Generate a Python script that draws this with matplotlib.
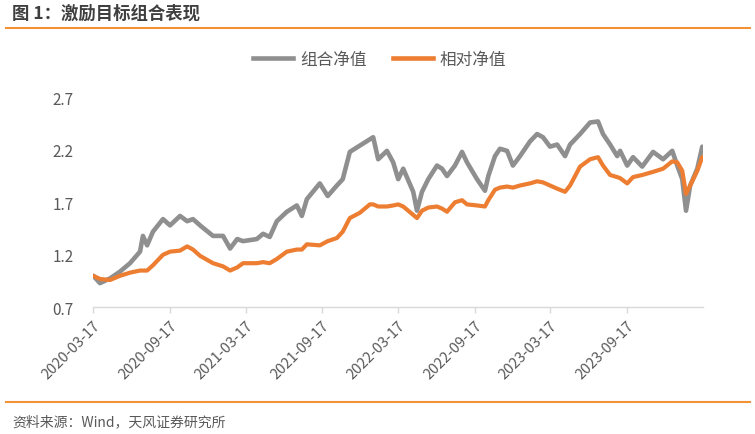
import matplotlib
matplotlib.use("Agg")
import matplotlib.pyplot as plt
import pandas as pd
from matplotlib.lines import Line2D

plt.rcParams['font.family'] = ['Noto Sans CJK SC', 'DejaVu Sans']

dates = ["2020-03-17", "2020-04-02", "2020-04-26", "2020-05-20", "2020-06-13", "2020-07-07",
         "2020-07-14", "2020-07-24", "2020-08-07", "2020-08-31", "2020-09-17", "2020-10-11",
         "2020-10-28", "2020-11-11", "2020-11-28", "2020-12-29", "2021-01-22", "2021-02-08",
         "2021-02-25", "2021-03-11", "2021-04-13", "2021-04-28", "2021-05-14", "2021-05-31",
         "2021-06-24", "2021-07-18", "2021-07-30", "2021-08-11", "2021-09-11", "2021-09-30",
         "2021-10-22", "2021-11-05", "2021-11-22", "2021-12-16", "2022-01-09", "2022-01-17",
         "2022-01-29", "2022-02-19", "2022-03-06", "2022-03-18", "2022-03-30", "2022-04-23",
         "2022-05-02", "2022-05-14", "2022-05-29", "2022-06-19", "2022-07-01", "2022-07-13",
         "2022-08-01", "2022-08-18", "2022-08-30", "2022-09-23", "2022-10-12", "2022-10-20",
         "2022-11-05", "2022-11-17", "2022-12-04", "2022-12-18", "2023-01-04", "2023-01-28",
         "2023-02-14", "2023-02-28", "2023-03-17", "2023-04-03", "2023-04-22", "2023-05-04",
         "2023-05-28", "2023-06-21", "2023-07-10", "2023-07-22", "2023-08-08", "2023-08-25",
         "2023-09-01", "2023-09-18", "2023-10-02", "2023-10-24", "2023-11-19", "2023-12-13",
         "2024-01-04", "2024-01-16", "2024-01-28", "2024-02-06", "2024-02-16", "2024-03-04",
         "2024-03-16"]

portfolio_nav = [1.00, 0.93, 0.975, 1.04, 1.12, 1.23, 1.38, 1.29, 1.42, 1.54, 1.48, 1.57,
                 1.52, 1.54, 1.48, 1.38, 1.38, 1.26, 1.35, 1.33, 1.35, 1.40, 1.37, 1.52,
                 1.61, 1.67, 1.57, 1.73, 1.88, 1.76, 1.86, 1.92, 2.18, 2.24, 2.30, 2.32,
                 2.11, 2.19, 2.08, 1.92, 2.02, 1.80, 1.62, 1.80, 1.92, 2.05, 2.02, 1.95,
                 2.05, 2.18, 2.08, 1.92, 1.81, 1.95, 2.14, 2.21, 2.19, 2.05, 2.14, 2.28,
                 2.35, 2.32, 2.23, 2.25, 2.14, 2.25, 2.35, 2.46, 2.47, 2.35, 2.25, 2.14,
                 2.19, 2.05, 2.13, 2.04, 2.18, 2.11, 2.19, 2.05, 1.92, 1.62, 1.86, 2.02,
                 2.23]

relative_nav = [1.00, 0.97, 0.96, 1.00, 1.03, 1.05, 1.05, 1.05, 1.10, 1.20, 1.23, 1.24,
                1.28, 1.25, 1.19, 1.12, 1.09, 1.05, 1.08, 1.12, 1.12, 1.13, 1.12, 1.16,
                1.23, 1.25, 1.25, 1.30, 1.29, 1.33, 1.36, 1.42, 1.55, 1.60, 1.68, 1.68,
                1.66, 1.66, 1.67, 1.68, 1.66, 1.58, 1.55, 1.62, 1.65, 1.66, 1.64, 1.61,
                1.70, 1.72, 1.68, 1.67, 1.66, 1.72, 1.82, 1.84, 1.85, 1.84, 1.86, 1.88,
                1.90, 1.89, 1.86, 1.83, 1.80, 1.86, 2.04, 2.11, 2.13, 2.05, 1.96, 1.94,
                1.93, 1.88, 1.94, 1.96, 1.99, 2.02, 2.09, 2.08, 2.00, 1.78, 1.86, 2.00,
                2.13]

series_names = ["组合净值", "相对净值"]
tick_dates = ["2020-03-17", "2020-09-17", "2021-03-17", "2021-09-17",
              "2022-03-17", "2022-09-17", "2023-03-17", "2023-09-17"]
y_ticks = [0.7, 1.2, 1.7, 2.2, 2.7]

GRAY = "#8f8f8f"
ORANGE = "#ed7d31"
RULE = "#f39234"
TXT = "#595959"

x = pd.to_datetime(dates)

fig = plt.figure(figsize=(7.55, 4.35), dpi=100)
ax = fig.add_axes([93.3 / 755, 1 - 308.3 / 435, (702.7 - 93.3) / 755, (308.3 - 98.3) / 435])

ax.plot(x, portfolio_nav, color=GRAY, lw=3.3, solid_joinstyle='round', solid_capstyle='round')
ax.plot(x, relative_nav, color=ORANGE, lw=3.0, solid_joinstyle='round', solid_capstyle='round')

ax.set_xlim(pd.Timestamp("2020-03-17"), pd.Timestamp("2024-03-17"))
ax.set_ylim(0.7, 2.7)
ax.set_yticks(y_ticks)
ax.set_yticklabels([f"{v:.1f}" for v in y_ticks])
ax.set_xticks(pd.to_datetime(tick_dates))
ax.set_xticklabels(tick_dates, rotation=45, ha='right', va='top', rotation_mode='anchor')

for s in ['top', 'right', 'left']:
    ax.spines[s].set_visible(False)
ax.spines['bottom'].set_color('#d9d9d9')
ax.spines['bottom'].set_linewidth(1.0)
ax.tick_params(axis='y', length=0, pad=14, labelsize=11, labelcolor=TXT)
ax.tick_params(axis='x', length=4, width=1, color='#d9d9d9', pad=4, labelsize=10.5, labelcolor=TXT)

handles = [Line2D([], [], color=GRAY, lw=3.3), Line2D([], [], color=ORANGE, lw=3.3)]
fig.legend(handles, series_names, loc='center', bbox_to_anchor=(0.503, 1 - 60 / 435), ncol=2,
           frameon=False, fontsize=12, handlelength=2.4, handletextpad=0.4, columnspacing=1.6,
           labelcolor=TXT)

fig.text(12 / 755, 1 - 14 / 435, "图 1：激励目标组合表现", fontsize=12.5, fontweight='bold',
         color='#3f3f3f', ha='left', va='center')
fig.add_artist(Line2D([6 / 755, 750 / 755], [1 - 29 / 435] * 2, color=RULE, lw=1.5))
fig.add_artist(Line2D([6 / 755, 750 / 755], [1 - 403 / 435] * 2, color=RULE, lw=1.5))
fig.text(12 / 755, 1 - 422 / 435, "资料来源：Wind，天风证券研究所", fontsize=10,
         color=TXT, ha='left', va='center')

fig.savefig("out.png", dpi=100)
